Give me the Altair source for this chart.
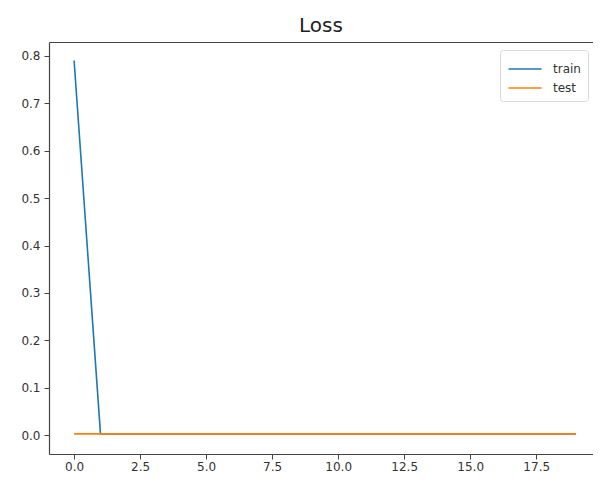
import altair as alt
import pandas as pd

epochs = [0, 1, 2, 3, 4, 5, 6, 7, 8, 9, 10, 11, 12, 13, 14, 15, 16, 17, 18, 19]
train_loss = [0.79, 0.003, 0.003, 0.003, 0.003, 0.003, 0.003, 0.003, 0.003, 0.003,
              0.003, 0.003, 0.003, 0.003, 0.003, 0.003, 0.003, 0.003, 0.003, 0.003]
test_loss = [0.003, 0.003, 0.003, 0.003, 0.003, 0.003, 0.003, 0.003, 0.003, 0.003,
             0.003, 0.003, 0.003, 0.003, 0.003, 0.003, 0.003, 0.003, 0.003, 0.003]
series = ["train", "test"]
colors = ["#1f77b4", "#ff7f0e"]
x_ticks = [0.0, 2.5, 5.0, 7.5, 10.0, 12.5, 15.0, 17.5]
y_ticks = [0.0, 0.1, 0.2, 0.3, 0.4, 0.5, 0.6, 0.7, 0.8]

rows = []
for i, e in enumerate(epochs):
    rows.append({"epoch": e, "loss": train_loss[i], "series": "train", "order": 0})
for i, e in enumerate(epochs):
    rows.append({"epoch": e, "loss": test_loss[i], "series": "test", "order": 1})
df = pd.DataFrame(rows)

FONT = "DejaVu Sans"
xscale = alt.Scale(domain=[-0.95, 19.65], nice=False, zero=False)
yscale = alt.Scale(domain=[-0.0395, 0.829], nice=False, zero=False)
yaxis = alt.Axis(values=y_ticks, format=".1f", title=None, grid=False,
                 tickSize=5, labelPadding=4)

chart = alt.Chart(df).mark_line(strokeWidth=1.6).encode(
    x=alt.X("epoch:Q", scale=xscale,
            axis=alt.Axis(values=x_ticks, format=".1f", title=None, grid=False,
                          tickSize=5, labelPadding=2)),
    y=alt.Y("loss:Q", scale=yscale, axis=yaxis),
    color=alt.Color("series:N",
                    scale=alt.Scale(domain=series, range=colors),
                    legend=alt.Legend(title=None, orient="none", legendX=451, legendY=8,
                                      symbolType="M-1.5,0H1.5", symbolSize=484,
                                      symbolStrokeWidth=1.6, symbolOffset=6,
                                      strokeColor="#d8d8d8", fillColor="white",
                                      cornerRadius=3, padding=7, rowPadding=1,
                                      labelFontSize=12, labelFont=FONT,
                                      labelOffset=16, labelColor="#333")),
    order=alt.Order("order:Q"),
    detail="series:N",
)

top_axis = alt.Chart(df).mark_line(opacity=0).encode(
    x=alt.X("epoch:Q", scale=xscale,
            axis=alt.Axis(orient="top", labels=False, ticks=False, title=None, grid=False)),
    y=alt.Y("loss:Q", scale=yscale, axis=yaxis),
)

out = alt.layer(chart, top_axis).resolve_axis(x="independent").properties(
    width=544, height=412,
    title=alt.Title("Loss", fontSize=20, font=FONT, fontWeight="normal",
                    anchor="middle", color="#222", offset=6),
    autosize=alt.AutoSizeParams(type="none"),
    padding={"left": 41, "top": 34, "right": 0, "bottom": 23},
).configure_view(stroke=None).configure_axis(
    domainColor="#444", tickColor="#444", labelColor="#333",
    labelFont=FONT, labelFontSize=12, domainWidth=1.2,
)

out.save("out.html", embed_options={"renderer": "svg", "actions": False})
